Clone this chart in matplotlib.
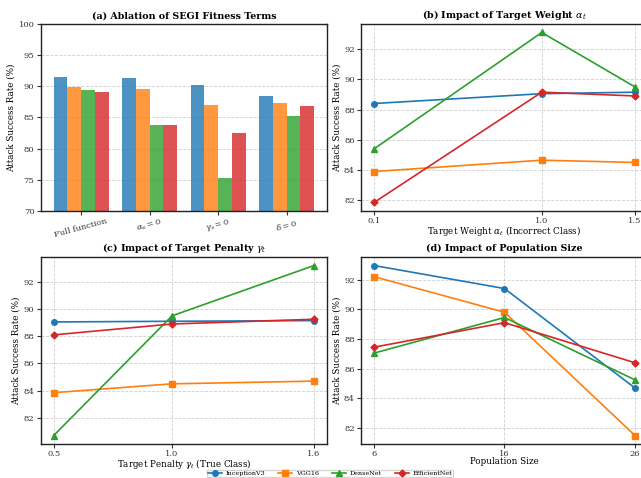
"""Four-panel ablation / sensitivity figure for SEGI attack success rates."""

import matplotlib

matplotlib.use("Agg")
import matplotlib.pyplot as plt  # noqa: E402
import numpy as np  # noqa: E402

plt.rcParams["font.family"] = "DejaVu Serif"
plt.rcParams["mathtext.fontset"] = "dejavuserif"

models = ["InceptionV3", "VGG16", "DenseNet", "EfficientNet"]
colors = ["tab:blue", "tab:orange", "tab:green", "tab:red"]
markers = ["o", "s", "^", "D"]

# (a) ablation bars
ablation_labels = ["Full function", r"$\alpha_s = 0$", r"$\gamma_s = 0$", r"$\delta = 0$"]
ablation = {
    "InceptionV3": [91.5, 91.3, 90.2, 88.4],
    "VGG16": [89.9, 89.6, 87.0, 87.3],
    "DenseNet": [89.4, 83.8, 75.3, 85.2],
    "EfficientNet": [89.1, 83.8, 82.5, 86.8],
}

# (b) target weight alpha_t
alpha_t = [0.1, 1.0, 1.5]
alpha_asr = {
    "InceptionV3": [88.4, 89.05, 89.15],
    "VGG16": [83.9, 84.65, 84.5],
    "DenseNet": [85.4, 93.1, 89.5],
    "EfficientNet": [81.85, 89.15, 88.9],
}

# (c) target penalty gamma_t
gamma_t = [0.5, 1.0, 1.6]
gamma_asr = {
    "InceptionV3": [89.05, 89.1, 89.15],
    "VGG16": [83.85, 84.5, 84.7],
    "DenseNet": [80.7, 89.5, 93.2],
    "EfficientNet": [88.1, 88.9, 89.25],
}

# (d) population size
pop_size = [6, 16, 26]
pop_asr = {
    "InceptionV3": [92.95, 91.4, 84.7],
    "VGG16": [92.2, 89.8, 81.5],
    "DenseNet": [87.05, 89.45, 85.25],
    "EfficientNet": [87.45, 89.1, 86.4],
}

TITLE_FS = 6.8
LABEL_FS = 6.3
TICK_FS = 6


def style(ax):
    ax.tick_params(labelsize=TICK_FS, colors="#333333", length=3, pad=1.5)
    for s in ax.spines.values():
        s.set_linewidth(1.0)
        s.set_color("#222222")


def line_panel(ax, xs, data, title, xlabel):
    for m, c, mk in zip(models, colors, markers):
        ax.plot(xs, data[m], color=c, marker=mk, ms=4 if mk != "D" else 3.5,
                lw=1.2, label=m)
    ax.set_xticks(xs)
    ax.set_xticklabels([str(x) for x in xs])
    ax.set_title(title, fontsize=TITLE_FS, fontweight="bold", pad=4)
    ax.set_xlabel(xlabel, fontsize=LABEL_FS, labelpad=-1)
    ax.set_ylabel("Attack Success Rate (%)", fontsize=LABEL_FS, labelpad=2)
    ax.grid(ls="--", color="#bbbbbb", alpha=0.7, lw=0.6)
    style(ax)


fig = plt.figure(figsize=(6.41, 4.78), dpi=100)
ax_a = fig.add_axes([0.0635, 0.5586, 0.4467, 0.3912])
ax_b = fig.add_axes([0.5632, 0.5586, 0.4477, 0.3912])
ax_c = fig.add_axes([0.0635, 0.0711, 0.4467, 0.3912])
ax_d = fig.add_axes([0.5632, 0.0711, 0.4477, 0.3912])

# (a)
x = np.arange(len(ablation_labels))
w = 0.2
for i, (m, c) in enumerate(zip(models, colors)):
    ax_a.bar(x + (i - 1.5) * w, ablation[m], w, color=c, alpha=0.8, label=m)
ax_a.set_ylim(70, 100)
ax_a.set_xticks(x)
ax_a.set_xticklabels(ablation_labels, rotation=15, fontsize=TICK_FS)
ax_a.set_ylabel("Attack Success Rate (%)", fontsize=LABEL_FS, labelpad=2)
ax_a.set_title("(a) Ablation of SEGI Fitness Terms", fontsize=TITLE_FS,
               fontweight="bold", pad=4)
ax_a.grid(axis="y", ls="--", color="#bbbbbb", alpha=0.7, lw=0.6)
ax_a.set_axisbelow(True)
style(ax_a)

line_panel(ax_b, alpha_t, alpha_asr, r"(b) Impact of Target Weight $\alpha_t$",
           r"Target Weight $\alpha_t$ (Incorrect Class)")
line_panel(ax_c, gamma_t, gamma_asr, r"(c) Impact of Target Penalty $\gamma_t$",
           r"Target Penalty $\gamma_t$ (True Class)")
line_panel(ax_d, pop_size, pop_asr, "(d) Impact of Population Size",
           "Population Size")

handles, labels = ax_b.get_legend_handles_labels()
fig.legend(handles, labels, loc="upper center", bbox_to_anchor=(0.515, 0.017),
           ncol=4, fontsize=4.6, frameon=True, handlelength=2.2,
           columnspacing=2.0, borderpad=0.1, handletextpad=0.6,
           borderaxespad=0, fancybox=False, edgecolor="#cccccc")

fig.savefig("out.png", dpi=100)
